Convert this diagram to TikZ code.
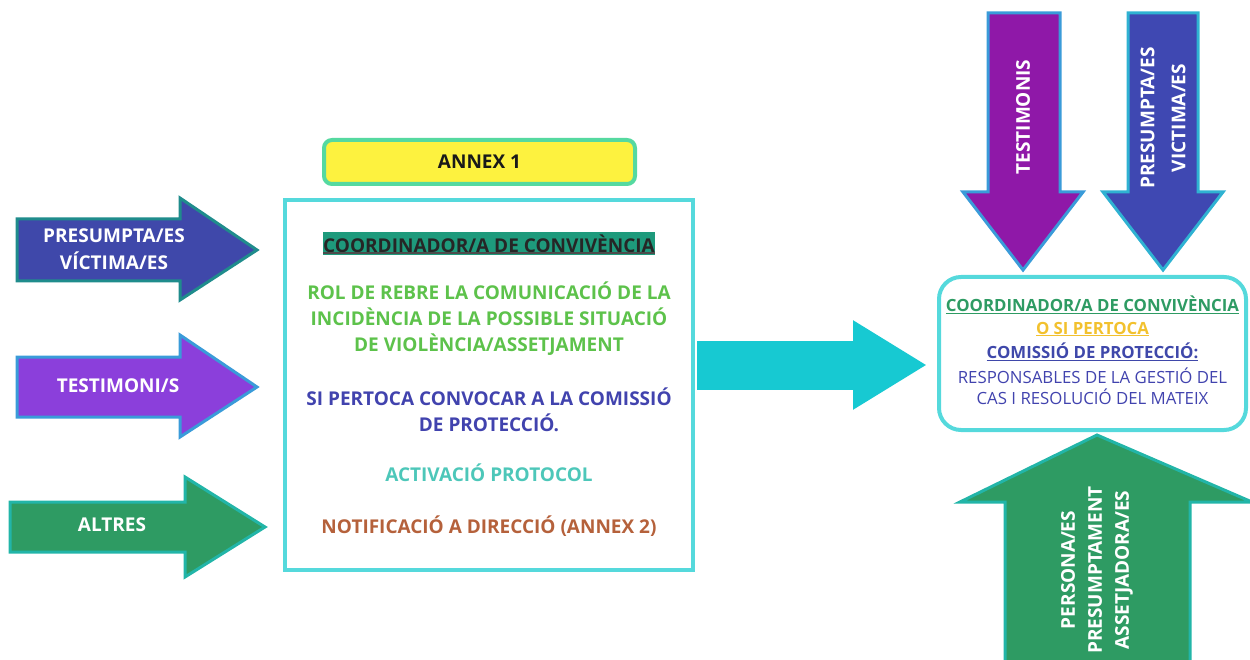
\documentclass[tikz,border=0pt]{standalone}
\usepackage{fontspec}
\setmainfont{Open Sans}
\usetikzlibrary{arrows.meta}
\definecolor{indigoA}{HTML}{3F48AA}
\definecolor{tealB}{HTML}{1F8C8C}
\definecolor{purpleA}{HTML}{8B3FDB}
\definecolor{blueB}{HTML}{3A9BD9}
\definecolor{greenA}{HTML}{2E9B63}
\definecolor{greenB}{HTML}{22B5A8}
\definecolor{cyanB}{HTML}{55D9DC}
\definecolor{yellowA}{HTML}{FDF23F}
\definecolor{yellowB}{HTML}{55D9A0}
\definecolor{midcyan}{HTML}{17C9D2}
\definecolor{txtgreen}{HTML}{5DC24B}
\definecolor{txtblue}{HTML}{4143AE}
\definecolor{txtteal}{HTML}{4DC7B9}
\definecolor{txtbrown}{HTML}{B5613B}
\definecolor{hilite}{HTML}{1E9A7C}
\definecolor{toppurple}{HTML}{8F18A8}
\definecolor{topblue}{HTML}{3F48B2}
\definecolor{topblueB}{HTML}{2FB2D2}
\definecolor{txtorange}{HTML}{F2C12E}
\begin{document}
\begin{tikzpicture}[x=1pt,y=-1pt,
  shapeline/.style={line width=3pt, line join=miter},
  lbl/.style={text=white, font=\bfseries\fontsize{19}{27}\selectfont, align=center, inner sep=0pt},
  boxtext/.style={font=\bfseries\fontsize{19}{26}\selectfont, align=center, inner sep=0pt},
  rtext/.style={font=\bfseries\fontsize{16.8}{22}\selectfont, align=center, inner sep=0pt},
  rplain/.style={font=\fontsize{16.8}{21}\selectfont, align=center, inner sep=0pt, text=txtblue}]
\useasboundingbox (0,0) rectangle (1250,660);
% left arrows
\draw[shapeline, draw=tealB, fill=indigoA] (17,219) -- (180,219) -- (180,198) -- (257,250) -- (180,300) -- (180,281) -- (17,281) -- cycle;
\node[lbl] (victL) at (114,249) {PRESUMPTA/ES\\VÍCTIMA/ES};
\draw[shapeline, draw=blueB, fill=purpleA] (17,357) -- (180,357) -- (180,335) -- (257,387) -- (180,437) -- (180,417) -- (17,417) -- cycle;
\node[lbl] (testL) at (118,386) {TESTIMONI/S};
\draw[shapeline, draw=greenB, fill=greenA] (10,502) -- (185,502) -- (185,477) -- (265,527) -- (185,577) -- (185,552) -- (10,552) -- cycle;
\node[lbl] (altres) at (112,525) {ALTRES};
% annex
\node[draw=yellowB, fill=yellowA, line width=4pt, rounded corners=8pt, minimum width=311pt, minimum height=44pt, font=\bfseries\fontsize{19}{22}\selectfont, text=black!90] (annex) at (479.5,162) {ANNEX 1};
% main box
\node[draw=cyanB, line width=4pt, minimum width=408pt, minimum height=370pt] (main) at (489,385) {};
\node[boxtext, fill=hilite, text=black!85, inner xsep=0pt, minimum height=23pt] (coord) at (489,243.5) {COORDINADOR/A DE CONVIVÈNCIA};
\draw[line width=1.5pt, black!70] ([yshift=2pt]coord.south west) -- ([yshift=2pt]coord.south east);
\node[boxtext, text=txtgreen] (rol) at (489,319) {ROL DE REBRE LA COMUNICACIÓ DE LA\\INCIDÈNCIA DE LA POSSIBLE SITUACIÓ\\DE VIOLÈNCIA/ASSETJAMENT};
\node[boxtext, text=txtblue] (conv) at (489,410) {SI PERTOCA CONVOCAR A LA COMISSIÓ\\DE PROTECCIÓ.};
\node[boxtext, text=txtteal] (activ) at (489,473) {ACTIVACIÓ PROTOCOL};
\node[boxtext, text=txtbrown] (notif) at (489,526) {NOTIFICACIÓ A DIRECCIÓ (ANNEX 2)};
% right box
\node[draw=cyanB, line width=4pt, rounded corners=22pt, minimum width=307pt, minimum height=153pt] (resp) at (1092.5,353.5) {};
\node[rtext, text=greenA] (rcoord) at (1092.5,305) {\underline{COORDINADOR/A DE CONVIVÈNCIA}};
\node[rtext, text=txtorange] (rsi) at (1092.5,329) {\underline{O SI PERTOCA}};
\node[rtext, text=indigoA] (rcom) at (1092.5,352) {\underline{COMISSIÓ DE PROTECCIÓ:}};
\node[rplain] (rresp) at (1092.5,386) {RESPONSABLES DE LA GESTIÓ DEL\\CAS I RESOLUCIÓ DEL MATEIX};
% middle connector
\draw[midcyan, line width=49pt, -{Triangle[length=74pt,width=84pt]}, shorten >=10pt, shorten <=2pt] (main.east |- 0,365) -- (resp.west |- 0,365);
% top arrows
\draw[shapeline, draw=blueB, fill=toppurple] (988,13) -- (1060,13) -- (1060,192) -- (1083,192) -- (1023,270) -- (963,192) -- (988,192) -- cycle;
\node[lbl, rotate=90] (testT) at (1023,117) {TESTIMONIS};
\draw[shapeline, draw=topblueB, fill=topblue] (1128,13) -- (1198,13) -- (1198,192) -- (1223,192) -- (1163,270) -- (1103,192) -- (1128,192) -- cycle;
\node[lbl, rotate=90, font=\bfseries\fontsize{19}{31}\selectfont] (victT) at (1163,118) {PRESUMPTA/ES\\VICTIMA/ES};
% bottom arrow
\draw[shapeline, draw=greenB, fill=greenA] (1005,670) -- (1005,502) -- (960,502) -- (1097,435) -- (1252,502) -- (1190,502) -- (1190,670) -- cycle;
\node[lbl, rotate=90] (pers) at (1097,570) {PERSONA/ES\\PRESUMPTAMENT\\ASSETJADORA/ES};
\end{tikzpicture}
\end{document}
